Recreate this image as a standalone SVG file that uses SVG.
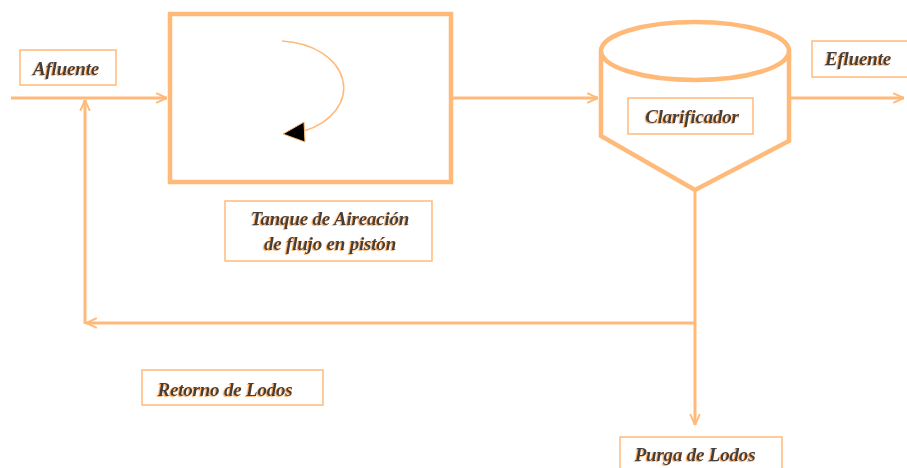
<svg xmlns="http://www.w3.org/2000/svg" width="907" height="468" viewBox="0 0 907 468">
<defs>
<style>
.ln{fill:none;stroke:#FFBA7A;stroke-width:3}
.box{fill:none;stroke:#FFBA7A;stroke-width:1.5}
.shape{fill:none;stroke:#FFBA7A;stroke-width:4.5}
.t{font-family:"Liberation Serif","DejaVu Serif",serif;font-style:italic;font-weight:bold;font-size:19px;letter-spacing:-0.2px;fill:#3f3f3f;text-anchor:middle;filter:url(#sh)}
</style>
<filter id="sh" x="-10%" y="-30%" width="120%" height="160%">
<feDropShadow dx="-1.2" dy="0.8" stdDeviation="0.3" flood-color="#FFA54F" flood-opacity="1"/>
</filter>
<marker id="ar" viewBox="0 0 10 10" refX="10" refY="5" markerWidth="4" markerHeight="4" orient="auto" markerUnits="strokeWidth">
<path d="M1,1 L10,5 L1,9" fill="none" stroke="#FFBA7A" stroke-width="1.6"/>
</marker>
</defs>
<rect width="907" height="468" fill="#fff"/>
<g id="connectors">
<line class="ln" x1="11" y1="98" x2="167" y2="98" marker-end="url(#ar)"/>
<line class="ln" x1="453" y1="98" x2="598" y2="98" marker-end="url(#ar)"/>
<line class="ln" x1="789" y1="98" x2="904" y2="98" marker-end="url(#ar)"/>
<line class="ln" x1="695" y1="190" x2="695" y2="425" marker-end="url(#ar)"/>
<line class="ln" x1="695" y1="323" x2="86" y2="323" marker-end="url(#ar)"/>
<line class="ln" x1="85" y1="324" x2="85" y2="100" marker-end="url(#ar)"/>
</g>
<g id="afluente">
<rect class="box" x="20" y="50" width="96" height="35"/>
<text class="t" x="66" y="75">Afluente</text>
</g>
<g id="tanque">
<rect class="shape" x="170" y="14" width="281" height="168"/>
<path d="M282,41 A66,47 0 0 1 304,131" fill="none" stroke="#FFBA7A" stroke-width="1.5"/>
<polygon points="283,134 304,122 305,142" fill="#000" stroke="#FFBA7A" stroke-width="1"/>
</g>
<g id="tanque-label">
<rect class="box" x="225" y="201" width="207" height="60"/>
<text class="t" x="330" y="225">Tanque de Aireación</text>
<text class="t" x="330" y="250">de flujo en pistón</text>
</g>
<g id="clarificador">
<ellipse class="shape" cx="695" cy="51" rx="94" ry="29" stroke-width="4"/>
<path class="shape" stroke-width="4" d="M601,51 L601,136 L695,190 L789,141 L789,51"/>
<rect class="box" x="628" y="98" width="125" height="36"/>
<text class="t" x="692" y="123">Clarificador</text>
</g>
<g id="efluente">
<path class="box" d="M912,41 L812,41 L812,77 L912,77"/>
<text class="t" x="858" y="65">Efluente</text>
</g>
<g id="retorno">
<rect class="box" x="142" y="370" width="181" height="35"/>
<text class="t" x="225" y="396">Retorno de Lodos</text>
</g>
<g id="purga">
<path class="box" d="M620,472 L620,437 L782,437 L782,472"/>
<text class="t" x="695" y="461">Purga de Lodos</text>
</g>
</svg>
